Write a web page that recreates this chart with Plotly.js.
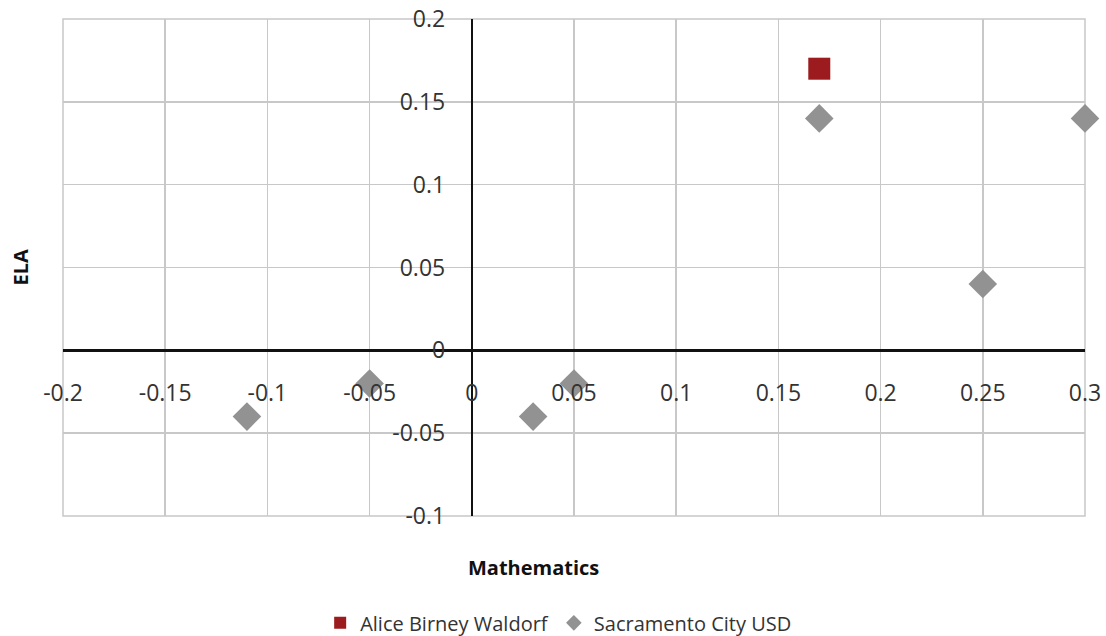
<!DOCTYPE html>
<html>
<head>
<meta charset="utf-8">
<script src="https://cdn.plot.ly/plotly-3.0.1.min.js"></script>
<style>html,body{margin:0;padding:0;background:#fff;}#chart{width:1106px;height:636px;}</style>
</head>
<body>
<div id="chart"></div>
<script>
const seriesNames = ["Alice Birney Waldorf", "Sacramento City USD"];
const aliceMath = [0.17];
const aliceELA = [0.17];
const sacMath = [0.17, 0.3, 0.25, -0.11, -0.05, 0.05, 0.03];
const sacELA = [0.14, 0.14, 0.04, -0.04, -0.02, -0.02, -0.04];
const xTicks = [-0.2, -0.15, -0.1, -0.05, 0, 0.05, 0.1, 0.15, 0.2, 0.25, 0.3];
const yTicks = [-0.1, -0.05, 0, 0.05, 0.1, 0.15, 0.2];
const xTitle = "Mathematics";
const yTitle = "ELA";

const fontFam = "'Open Sans', 'Noto Sans', sans-serif";
const xRange = [-0.2, 0.3], yRange = [-0.1, 0.2];

const traces = [
  {x: aliceMath, y: aliceELA, name: seriesNames[0], type: 'scatter', mode: 'markers',
   marker: {symbol: 'square', size: 22, color: '#9b1b1e'}, cliponaxis: false},
  {x: sacMath, y: sacELA, name: seriesNames[1], type: 'scatter', mode: 'markers',
   marker: {symbol: 'diamond', size: 22, color: '#929292'}, cliponaxis: false}
];

const layout = {
  width: 1106, height: 636,
  margin: {l: 63, r: 21, t: 19, b: 120, autoexpand: false},
  paper_bgcolor: '#fff', plot_bgcolor: '#fff',
  font: {family: fontFam, size: 20, color: '#333'},
  showlegend: true,
  legend: {orientation: 'h', x: 0.485, xanchor: 'center', y: -0.215, yanchor: 'middle',
           font: {family: fontFam, size: 20, color: '#333'}, itemsizing: 'constant', tracegroupgap: 0},
  xaxis: {range: xRange, tickvals: xTicks, ticktext: xTicks.map(String),
          anchor: 'free', position: (0 - yRange[0]) / (yRange[1] - yRange[0]),
          showgrid: true, gridcolor: '#c8c8c8', gridwidth: 1.5, zeroline: false,
          showline: true, linecolor: '#111', linewidth: 2.5,
          ticks: 'outside', ticklen: 22, tickcolor: 'rgba(0,0,0,0)',
          tickfont: {family: fontFam, size: 23, color: '#333'}, fixedrange: true},
  yaxis: {range: yRange, tickvals: yTicks, ticktext: yTicks.map(String),
          anchor: 'free', position: (0 - xRange[0]) / (xRange[1] - xRange[0]),
          showgrid: true, gridcolor: '#c8c8c8', gridwidth: 1.5, zeroline: false,
          showline: true, linecolor: '#111', linewidth: 2.5,
          ticks: 'outside', ticklen: 21, tickcolor: 'rgba(0,0,0,0)',
          tickfont: {family: fontFam, size: 23, color: '#333'}, fixedrange: true},
  shapes: [{type: 'rect', xref: 'paper', yref: 'paper', x0: 0, x1: 1, y0: 0, y1: 1,
            line: {color: '#c8c8c8', width: 1.5}, layer: 'below'}],
  annotations: [
    {text: '<b>' + xTitle + '</b>', xref: 'paper', yref: 'paper', x: 0.46, y: -0.104,
     xanchor: 'center', yanchor: 'middle', showarrow: false,
     font: {family: fontFam, size: 20, color: '#111'}},
    {text: '<b>' + yTitle + '</b>', xref: 'paper', yref: 'paper', x: -0.042, y: 0.5,
     xanchor: 'center', yanchor: 'middle', showarrow: false, textangle: -90,
     font: {family: fontFam, size: 20, color: '#111'}}
  ]
};

Plotly.newPlot('chart', traces, layout, {displayModeBar: false, staticPlot: true});
</script>
</body>
</html>
